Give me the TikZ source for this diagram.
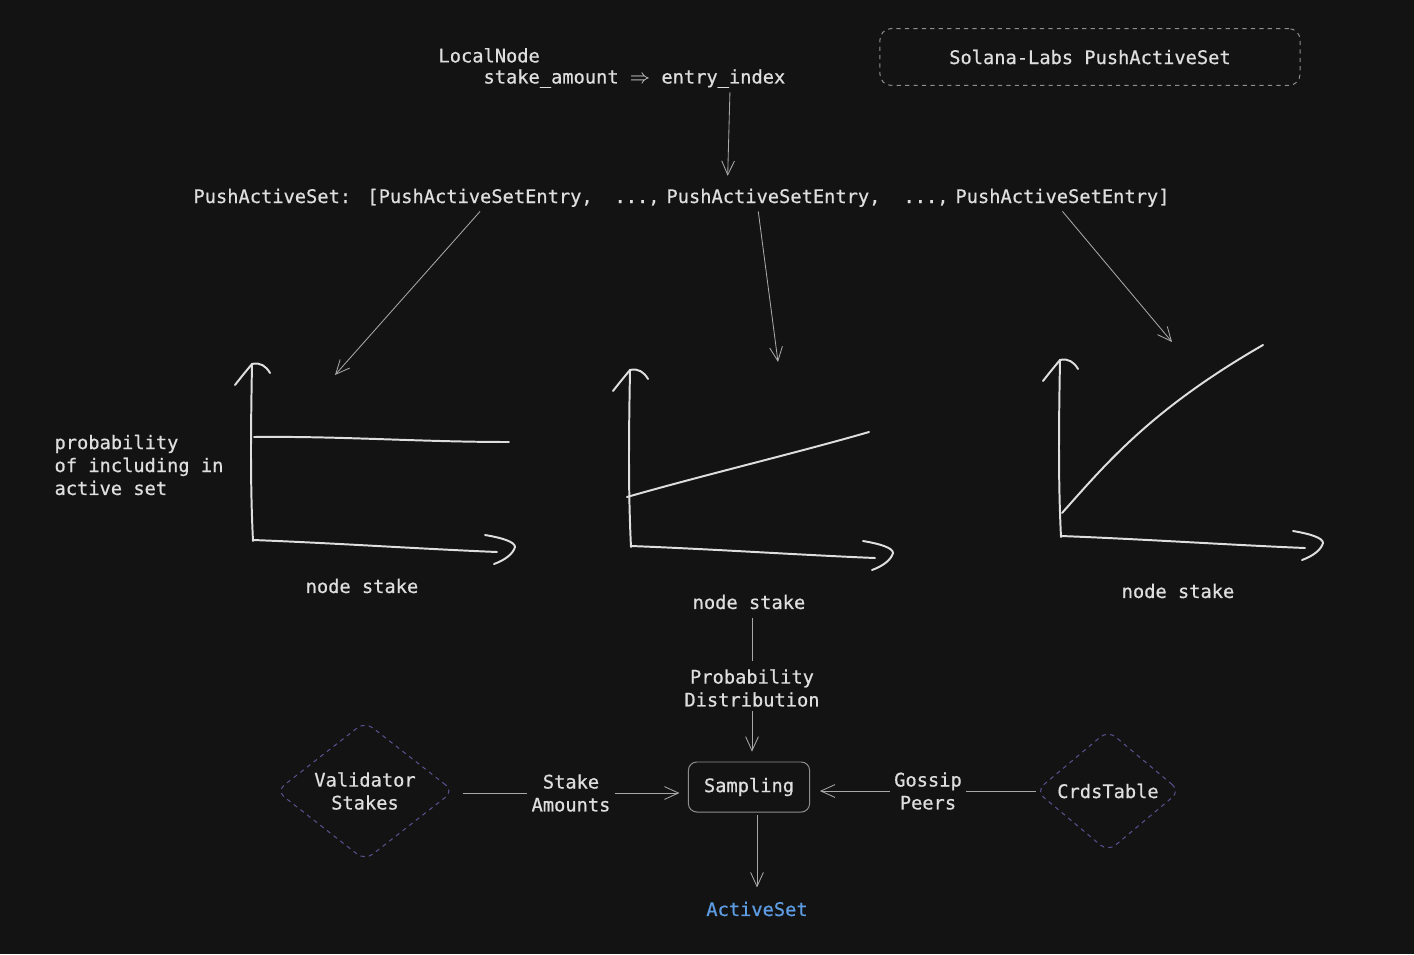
\documentclass[tikz,border=0pt]{standalone}
\usepackage{fontspec}
\setmonofont{DejaVu Sans Mono}[RawFeature={embolden=0.6}]
\usetikzlibrary{arrows.meta,shapes.geometric}

\definecolor{bgdark}{HTML}{131313}
\definecolor{inkgray}{HTML}{DEDEDE}
\definecolor{wiregray}{HTML}{A8A8A8}
\definecolor{boxgray}{HTML}{8E8E8E}
\definecolor{choicepurple}{HTML}{5A5394}
\definecolor{activeblue}{HTML}{5D9CE2}

\begin{document}
\begin{tikzpicture}[x=0.025cm,y=-0.025cm,
  font=\ttfamily\fontsize{13.3}{16.3}\selectfont,
  txt/.style={text=inkgray,inner sep=3pt},
  conn/.style={draw=wiregray,line width=0.6pt,-{Straight Barb[length=3.5mm,width=3.2mm]}},
  wire/.style={draw=wiregray,line width=0.6pt},
  sketch/.style={draw=inkgray,line width=1.4pt,line cap=round,line join=round},
  choice/.style={diamond,draw=choicepurple,dashed,line width=0.7pt,rounded corners=7pt,
    text=inkgray,align=center,inner sep=0pt},
]
\fill[bgdark] (0,0) rectangle (1414,954);
\useasboundingbox (0,0) rectangle (1414,954);

% header
\node[txt,align=left,anchor=west,font=\ttfamily\fontsize{13.3}{15}\selectfont] (localNode) at (434,68)
  {LocalNode\\\phantom{xxxx}stake\_amount $\Rightarrow$ entry\_index};
\node[txt,draw=boxgray,dashed,line width=0.7pt,rounded corners=8pt,
  minimum width=10.5cm,minimum height=1.42cm] (labTitle) at (1090,57) {Solana-Labs PushActiveSet};

% the active set entries
\node[txt,anchor=base west] (pasName) at (189,203) {PushActiveSet:};
\node[txt,anchor=base west] (entryA) at (363,203) {[PushActiveSetEntry,};
\node[txt,anchor=base west] (dotsA) at (610,203) {...,};
\node[txt,anchor=base west] (entryB) at (662,203) {PushActiveSetEntry,};
\node[txt,anchor=base west] (dotsB) at (899,203) {...,};
\node[txt,anchor=base west] (entryC) at (951,203) {PushActiveSetEntry]};

\draw[conn,shorten >=6pt] ([xshift=2.95cm]localNode.south) -- ([xshift=-1.15cm]entryB.north);

% hand drawn graphs
\foreach \gx/\gy in {253/541,631/547,1061/537}{
  \begin{scope}[shift={(\gx,\gy)}]
    \draw[sketch] (0,0) .. controls (-3,-60) and (-2,-120) .. (-1,-177);
    \draw[sketch] (-18,-156) .. controls (-11,-165) and (-6,-171) .. (-1,-177)
      .. controls (7,-179) and (13,-175) .. (17,-168);
    \draw[sketch] (0,-1) .. controls (80,2) and (170,8) .. (244,11);
    \draw[sketch] (232,-6) .. controls (250,-3) and (262,1) .. (262,6)
      .. controls (260,13) and (252,19) .. (241,23);
  \end{scope}
}
\draw[sketch] (254,437) .. controls (340,436) and (420,442) .. (509,442);
\draw[sketch] (627,497) .. controls (700,476) and (800,452) .. (869,432);
\draw[sketch] (1062,513) .. controls (1105,465) and (1150,410) .. (1263,345);

\coordinate (tipA) at (335,375);
\coordinate (tipB) at (778,362);
\coordinate (tipC) at (1172,342);
\draw[conn] (entryA.south) -- (tipA);
\draw[conn] ([xshift=-0.38cm]entryB.south) -- (tipB);
\draw[conn] (entryC.south) -- (tipC);

\node[txt,align=left] (probLabel) at (139,465) {probability\\of including in\\active set};
\node[txt] (stakeA) at (362,586) {node stake};
\node[txt] (stakeB) at (749,602) {node stake};
\node[txt] (stakeC) at (1178,591) {node stake};

% sampling flow
\node[txt,align=center] (probDist) at (752,688) {Probability\\Distribution};
\node[txt,draw=boxgray,line width=0.7pt,rounded corners=6pt,
  minimum width=3.03cm,minimum height=1.25cm] (sampling) at (749,787) {Sampling};
\node[txt,text=activeblue] (activeSet) at (757,909) {ActiveSet};
\node[choice,minimum width=4.43cm,minimum height=3.45cm] (validators) at (365,791) {Validator\\Stakes};
\node[txt,align=center] (stakeAmt) at (571,793) {Stake\\Amounts};
\node[choice,minimum width=3.6cm,minimum height=3.03cm] (crds) at (1108,791) {CrdsTable};
\node[txt,align=center] (gossip) at (928,791) {Gossip\\Peers};

\draw[wire,shorten <=3pt,shorten >=3pt] (probDist.north |- stakeB.south) -- (probDist.north);
\draw[conn,shorten >=7pt] (probDist.south) -- (probDist.south |- sampling.north);
\draw[wire,shorten <=6pt] (validators.east |- stakeAmt.west) -- (stakeAmt.west);
\draw[conn,shorten >=6pt] (stakeAmt.east) -- (stakeAmt.east -| sampling.west);
\draw[wire] (crds.west) -- (crds.west -| gossip.east);
\draw[conn,shorten >=7pt] (gossip.west) -- (gossip.west -| sampling.east);
\draw[conn,shorten <=2pt,shorten >=7pt] (activeSet.north |- sampling.south) -- (activeSet.north);
\end{tikzpicture}
\end{document}
